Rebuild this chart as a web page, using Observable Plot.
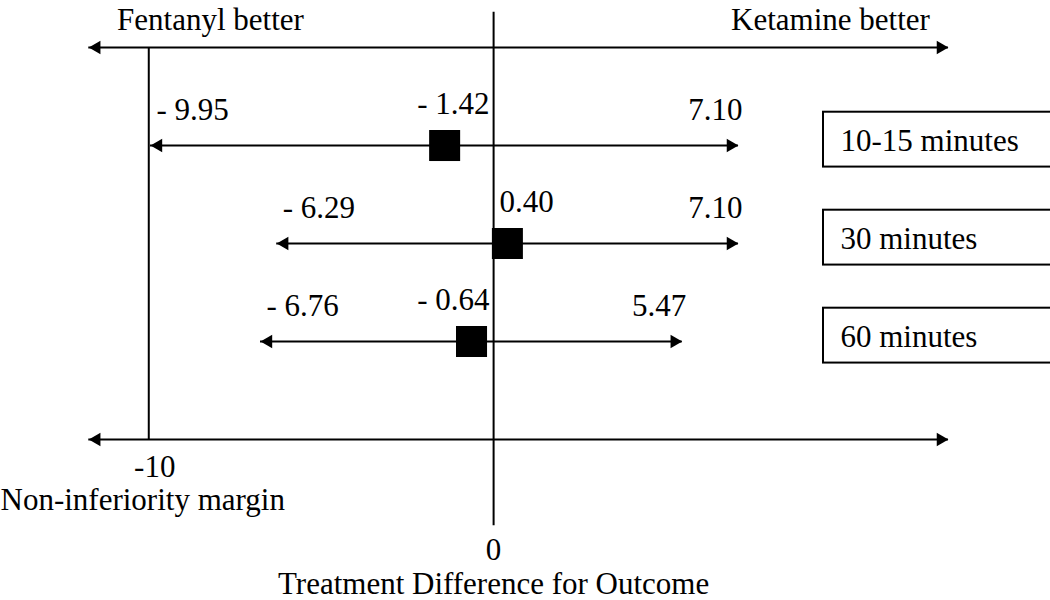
<!DOCTYPE html>
<html>
<head>
<meta charset="utf-8">
<script src="https://cdn.jsdelivr.net/npm/d3@7"></script>
<script src="https://cdn.jsdelivr.net/npm/@observablehq/plot@0.6"></script>
<style>
  html, body { margin: 0; padding: 0; background: #fff; }
  #chart svg { display: block; }
  #chart svg text { font-family: "Liberation Serif", "Times New Roman", serif; }
</style>
</head>
<body>
<div id="chart"></div>
<script>
// ---- data ----
const windows   = ["10-15 minutes", "30 minutes", "60 minutes"];
const estimates = [-1.42, 0.40, -0.64];
const lowerCI   = [-9.95, -6.29, -6.76];
const upperCI   = [7.10, 7.10, 5.47];
const marginValue = -10;
const zeroValue = 0;
const leftLabel = "Fentanyl better";
const rightLabel = "Ketamine better";
const marginLabel = "Non-inferiority margin";
const axisTitle = "Treatment Difference for Outcome";

const rows = windows.map((w, i) => ({
  row: i + 1, label: w, est: estimates[i], lo: lowerCI[i], hi: upperCI[i]
}));

const fmt = v => v < 0 ? "- " + Math.abs(v).toFixed(2) : v.toFixed(2);

// extent of the two long double-headed axis arrows (in data units)
const axisArrowL = -11.74, axisArrowR = 13.19;
const axisRows = [0, 4];

const headR = 5;       // arrowhead dot radius
const headOff = 7.8;   // tip offset from triangle centroid (px)

const chart = Plot.plot({
  width: 1050,
  height: 600,
  margin: 0,
  x: { domain: [-14.3, 16.15], range: [0, 1050], axis: null },
  y: { domain: [-0.48, 5.643], range: [0, 600], axis: null },
  style: { fontFamily: "Liberation Serif, Times New Roman, serif", fontSize: "31px", background: "white", color: "black" },
  marks: [
    // vertical reference lines
    Plot.ruleX([marginValue], { y1: 0, y2: 4, stroke: "black", strokeWidth: 2 }),
    Plot.ruleX([zeroValue], { y1: -0.36, y2: 4.88, stroke: "black", strokeWidth: 2 }),

    // long axis arrows (top and bottom)
    Plot.ruleY(axisRows, { x1: axisArrowL, x2: axisArrowR, stroke: "black", strokeWidth: 2 }),
    Plot.dot(axisRows, { x: () => axisArrowL, y: d => d, symbol: "triangle", r: headR, fill: "black", rotate: -90, dx: headOff }),
    Plot.dot(axisRows, { x: () => axisArrowR, y: d => d, symbol: "triangle", r: headR, fill: "black", rotate: 90, dx: -headOff }),

    // confidence interval arrows
    Plot.ruleY(rows, { y: "row", x1: "lo", x2: "hi", stroke: "black", strokeWidth: 2 }),
    Plot.dot(rows, { x: "lo", y: "row", symbol: "triangle", r: headR, fill: "black", rotate: -90, dx: headOff }),
    Plot.dot(rows, { x: "hi", y: "row", symbol: "triangle", r: headR, fill: "black", rotate: 90, dx: -headOff }),

    // point estimates
    Plot.dot(rows, { x: "est", y: "row", symbol: "square", r: 17.5, fill: "black" }),

    // value labels
    Plot.text(rows, { x: "lo", y: "row", text: d => fmt(d.lo), textAnchor: "start", dx: 6, dy: -35, fill: "black" }),
    Plot.text(rows, { x: "hi", y: "row", text: d => fmt(d.hi), textAnchor: "end", dx: 4, dy: -35, fill: "black" }),
    // estimate labels sit beside the zero line (left for negatives, right for positives)
    Plot.text(rows.filter(d => d.est < 0), { x: () => zeroValue, y: "row", text: d => fmt(d.est), textAnchor: "end", dx: -4, dy: -41, fill: "black" }),
    Plot.text(rows.filter(d => d.est >= 0), { x: () => zeroValue, y: "row", text: d => fmt(d.est), textAnchor: "start", dx: 6, dy: -41, fill: "black" }),

    // time-window boxes
    Plot.rect(rows, { x1: 9.567, x2: 16.6, y1: d => d.row - 0.34, y2: d => d.row + 0.22, stroke: "black", fill: "none", strokeWidth: 2 }),
    Plot.text(rows, { x: 10.06, y: d => d.row - 0.05, text: "label", textAnchor: "start", fill: "black" }),

    // annotations
    Plot.text([leftLabel], { x: -8.21, y: -0.28, text: d => d, fill: "black" }),
    Plot.text([rightLabel], { x: 9.77, y: -0.28, text: d => d, fill: "black" }),
    Plot.text([marginValue], { x: d => d, y: 4.28, text: d => String(d), dx: 6, fill: "black" }),
    Plot.text([marginLabel], { x: -14.3, y: 4.62, text: d => d, textAnchor: "start", fill: "black" }),
    Plot.text([zeroValue], { x: d => d, y: 5.13, text: d => String(d), fill: "black" }),
    Plot.text([axisTitle], { x: zeroValue, y: 5.48, text: d => d, fill: "black" })
  ]
});

document.getElementById("chart").appendChild(chart);
</script>
</body>
</html>
